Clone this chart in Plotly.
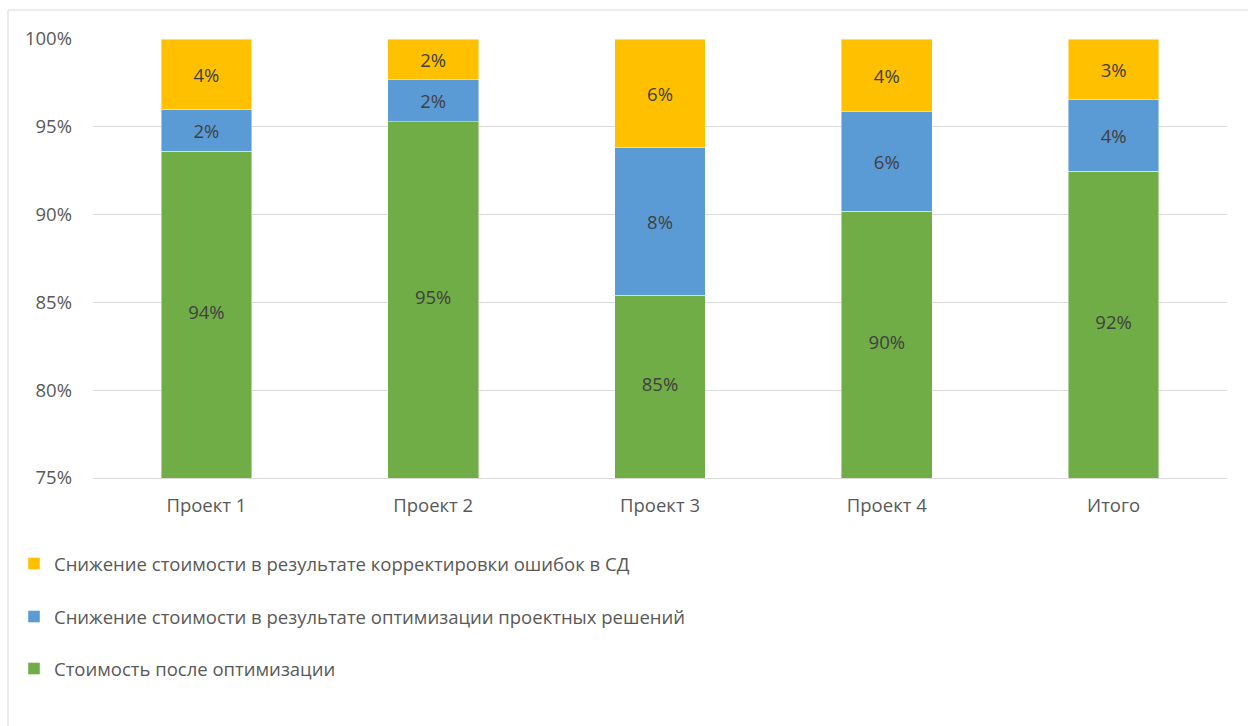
import plotly.graph_objects as go

categories = ["Проект 1", "Проект 2", "Проект 3", "Проект 4", "Итого"]

# Shares of the original cost, in percent
after_optimization = [93.6, 95.3, 85.4, 90.2, 92.48]
design_optimization = [2.4, 2.4, 8.4, 5.7, 4.07]
error_correction = [4.0, 2.3, 6.2, 4.1, 3.45]

series_names = [
    "Стоимость после оптимизации",
    "Снижение стоимости в результате оптимизации проектных решений",
    "Снижение стоимости в результате корректировки ошибок в СД",
]
series_colors = ["#70AD47", "#5B9BD5", "#FFC000"]

y_ticks = [75, 80, 85, 90, 95, 100]
y_tick_labels = ["75%", "80%", "85%", "90%", "95%", "100%"]

FONT = "Open Sans, Noto Sans, sans-serif"
FS = 18.5
W, H = 1248, 726
M_L, M_R, M_T, M_B = 93, 21, 39, 248
PLOT_W = W - M_L - M_R
PLOT_H = H - M_T - M_B
Y_MIN, Y_MAX = 75, 100.0005


def px_x(px):
    return (px - M_L) / PLOT_W


def px_y(py):
    return (H - M_B - py) / PLOT_H


fig = go.Figure()
legend_ids = ["legend3", "legend2", "legend"]
all_series = [after_optimization, design_optimization, error_correction]
for i, (values, name, color, leg) in enumerate(
        zip(all_series, series_names, series_colors, legend_ids)):
    bottom_visible = i == 0
    fig.add_trace(go.Bar(
        x=categories,
        y=values,
        name=name,
        legend=leg,
        marker=dict(color=color, line=dict(color="rgba(255,255,255,0.55)", width=0.8)),
        texttemplate=None if bottom_visible else "%{y:.0f}%",
        textposition="none" if bottom_visible else "inside",
        insidetextanchor="middle",
        textfont=dict(family=FONT, size=FS, color="#404040"),
        textangle=0,
        hoverinfo="x+y+name",
    ))

# Labels of the bottom series sit in the middle of the part visible above the axis floor
fig.add_trace(go.Scatter(
    x=categories,
    y=[(Y_MIN + v) / 2 for v in after_optimization],
    mode="text",
    text=[f"{v:.0f}%" for v in after_optimization],
    textposition="middle center",
    textfont=dict(family=FONT, size=FS, color="#404040"),
    showlegend=False,
    hoverinfo="skip",
))

legend_rows = {"legend": 564, "legend2": 617, "legend3": 669}
legend_layout = {}
for leg, row in legend_rows.items():
    legend_layout[leg] = dict(
        x=px_x(14), y=px_y(row), xanchor="left", yanchor="middle",
        orientation="v", bgcolor="rgba(0,0,0,0)", itemwidth=30,
        font=dict(family=FONT, size=FS, color="#595959"),
        itemclick=False, itemdoubleclick=False, visible=True,
    )

fig.update_layout(
    width=W, height=H,
    barmode="stack",
    bargap=0.6,
    showlegend=True,
    margin=dict(l=M_L, r=M_R, t=M_T, b=M_B),
    paper_bgcolor="white",
    plot_bgcolor="white",
    font=dict(family=FONT, size=FS, color="#595959"),
    **legend_layout,
)

fig.update_yaxes(
    range=[Y_MIN, Y_MAX],
    tickvals=y_ticks,
    ticktext=y_tick_labels,
    showgrid=True, gridcolor="#D9D9D9", gridwidth=1,
    zeroline=False, showline=False,
    ticks="", ticklabelstandoff=20,
    tickfont=dict(family=FONT, size=FS, color="#595959"),
)
fig.update_xaxes(
    showline=True, linecolor="#D9D9D9", linewidth=1,
    ticks="", ticklabelstandoff=11,
    tickfont=dict(family=FONT, size=FS, color="#595959"),
)

# Chart-area frame (left and top edges)
fig.add_shape(type="line", xref="paper", yref="paper",
              x0=px_x(8), x1=px_x(8), y0=px_y(10), y1=px_y(H + 5),
              line=dict(color="#D9D9D9", width=1))
fig.add_shape(type="line", xref="paper", yref="paper",
              x0=px_x(8), x1=px_x(W + 5), y0=px_y(10), y1=px_y(10),
              line=dict(color="#D9D9D9", width=1))

fig.write_html("out.html")
